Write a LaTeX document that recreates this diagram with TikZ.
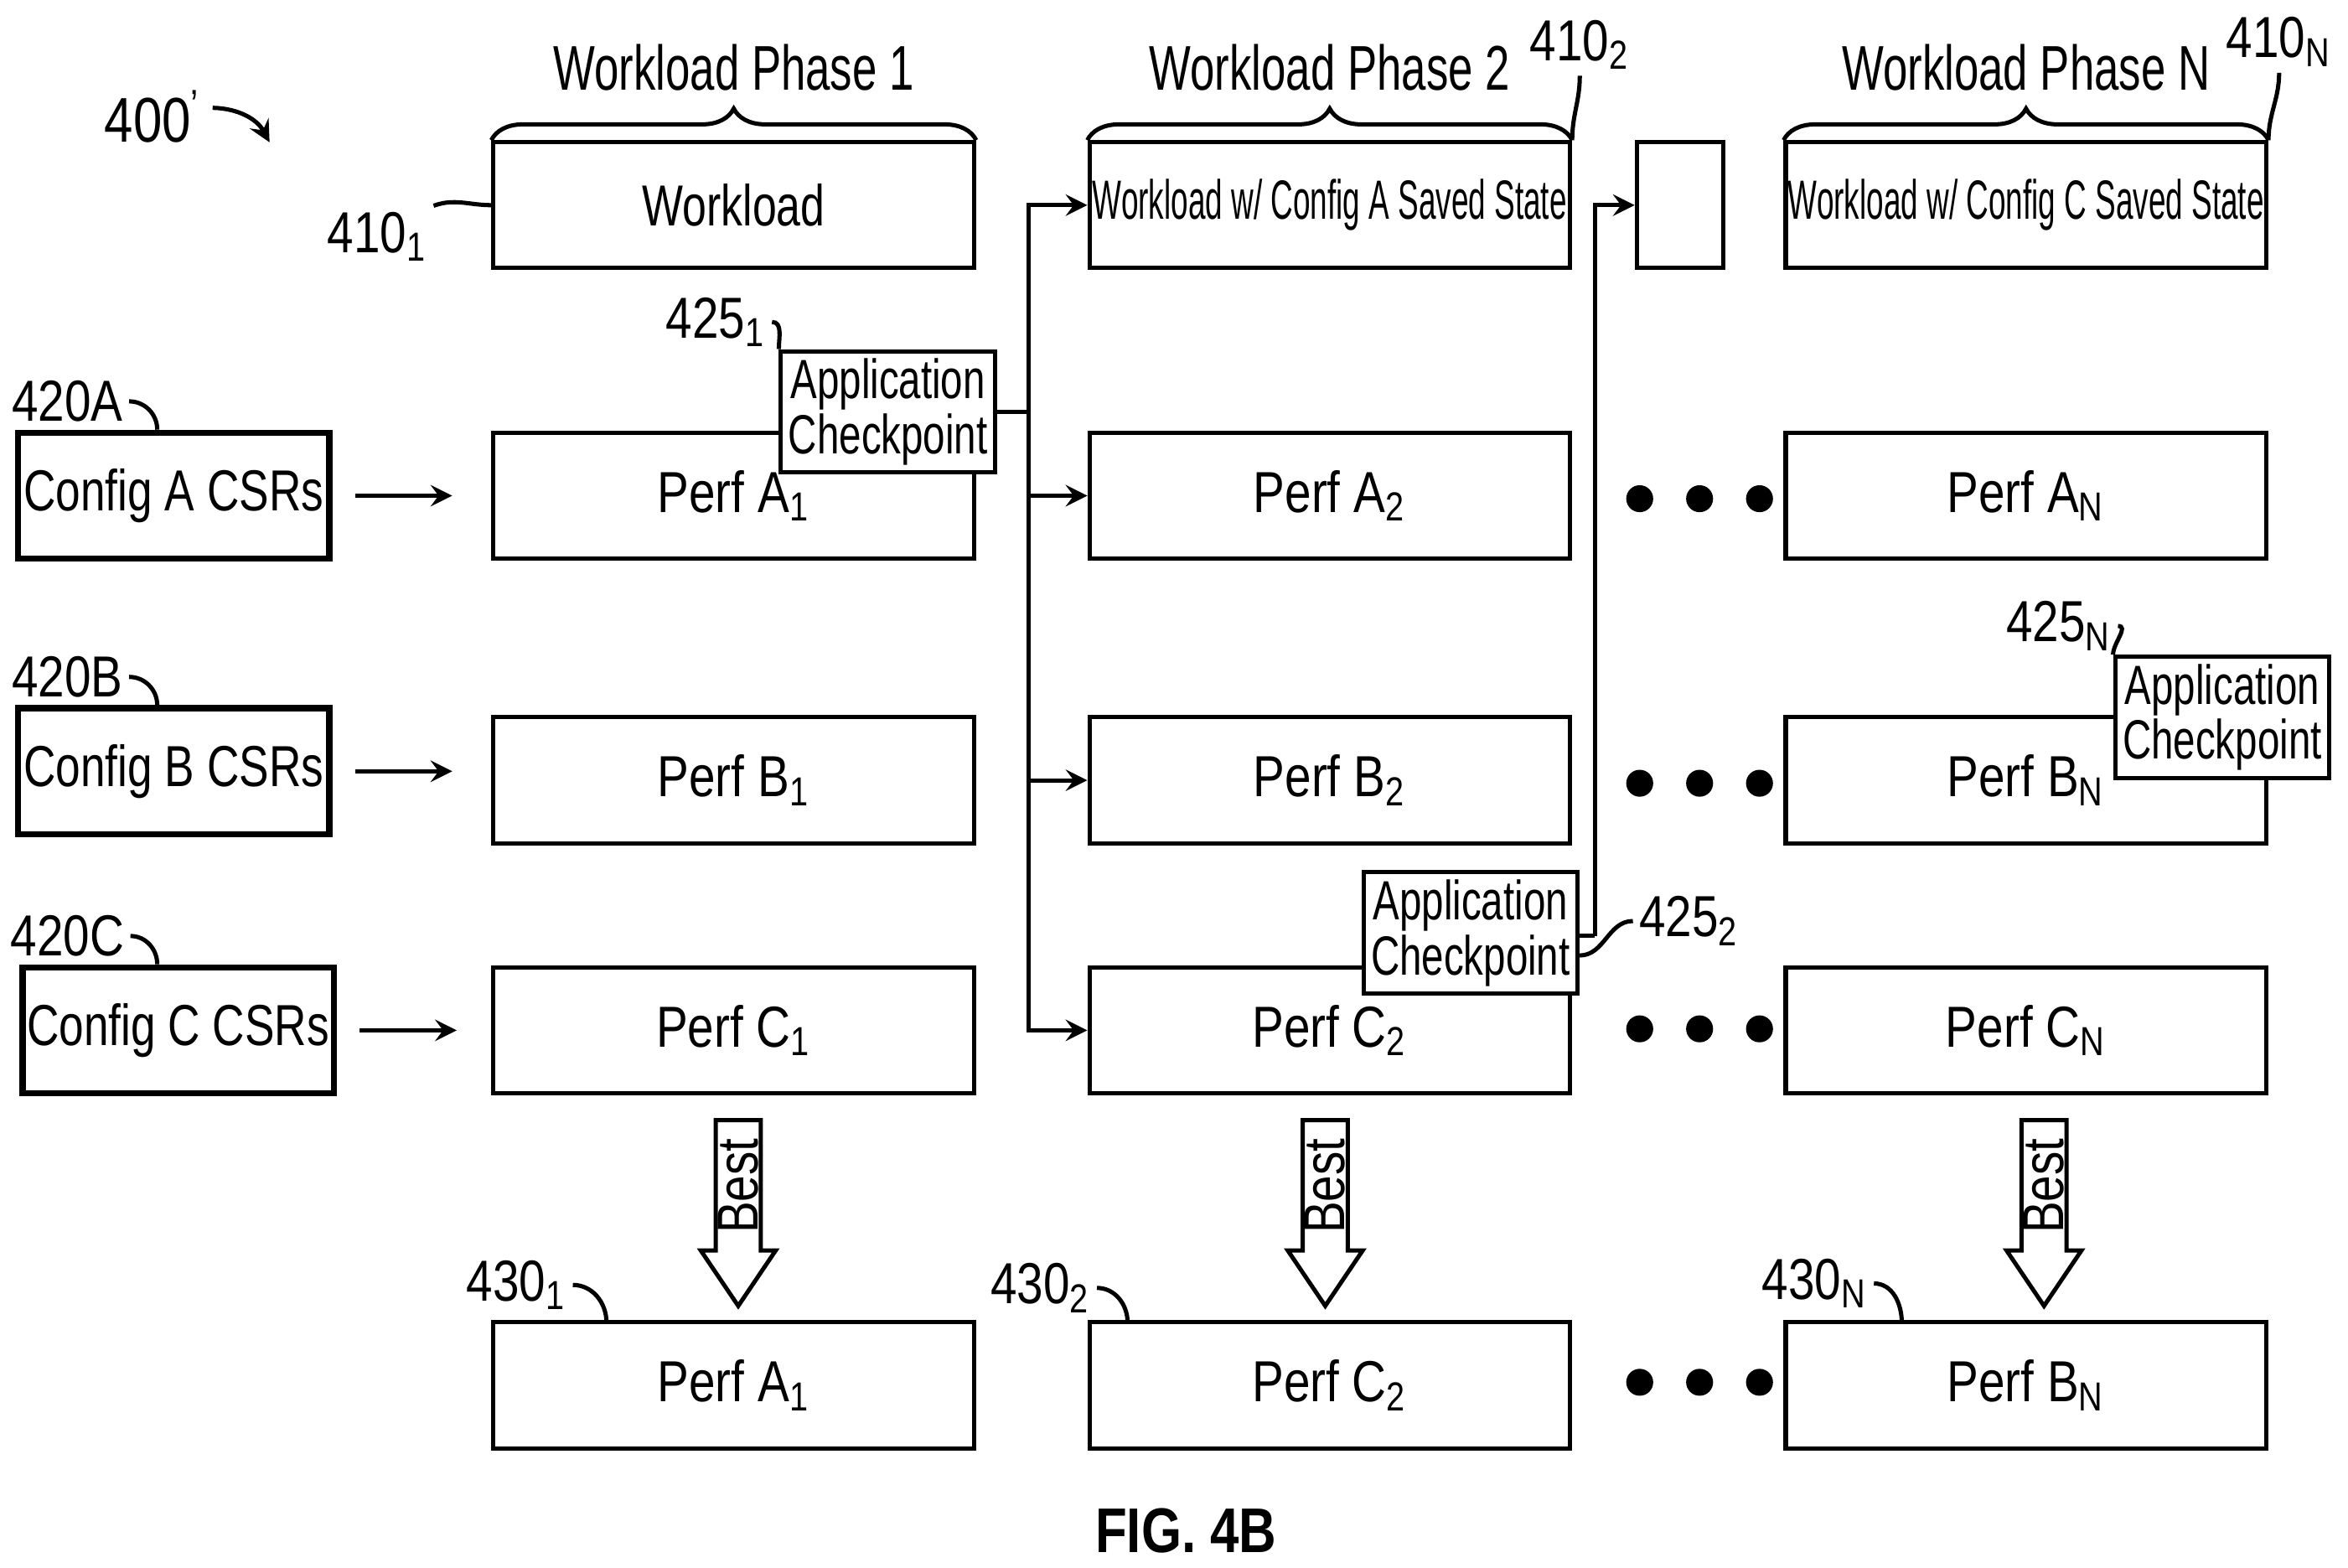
\documentclass[tikz,border=0pt]{standalone}
\usepackage{fontspec}
\setmainfont{Liberation Sans}
\usepackage{graphicx}
\usetikzlibrary{arrows,positioning,decorations.pathreplacing}
\newcommand{\nar}[2][0.82]{\scalebox{#1}[1]{#2}}
\newcommand{\sub}[1]{\textsubscript{#1}}
\tikzstyle{arrow} = [thick,->,>=stealth]
\tikzstyle{box} = [rectangle, draw, thick, minimum width=32.1mm, minimum height=8.4mm, font=\fontsize{11}{12}\selectfont, inner sep=0pt]
\tikzstyle{cfg} = [rectangle, draw, very thick, minimum width=20.8mm, minimum height=8.4mm, font=\fontsize{11}{12}\selectfont, inner sep=0pt]
\tikzstyle{chk} = [rectangle, draw, thick, fill=white, minimum width=14.3mm, minimum height=8.1mm, font=\fontsize{10.5}{10.5}\selectfont, align=center, inner sep=1pt]
\tikzstyle{lbl} = [font=\fontsize{11}{12}\selectfont, inner sep=1pt]
\tikzstyle{hook} = [thick]
\tikzstyle{dot} = [circle, fill, inner sep=0pt, minimum size=1.8mm]
\begin{document}
\begin{tikzpicture}[x=0.1mm, y=-0.1mm]
\useasboundingbox (0,0) rectangle (1568,1047);
% Workload phases
\node (w1) [box] at (490,137) {\nar[0.75]{Workload}};
\node (w2) [box] at (888,137) {\fontsize{10.5}{10.5}\selectfont\nar[0.56]{Workload w/ Config A Saved State}};
\node (wx) [box, minimum width=5.8mm] at (1122,137) {};
\node (wn) [box] at (1353,137) {\fontsize{10.5}{10.5}\selectfont\nar[0.56]{Workload w/ Config C Saved State}};
\foreach \w/\t in {w1/1, w2/2, wn/N}{
  \draw[thick, decorate, decoration={brace, amplitude=6pt}] (\w.north west) -- (\w.north east) node[midway, above=8pt, lbl, font=\fontsize{12}{12}\selectfont] {\nar[0.7]{Workload Phase \t}};
}
% Perf rows
\foreach \c/\x in {1/490, 2/888, N/1353}{
  \node (pa\c) [box] at (\x,331) {\nar{Perf A\sub{\c}}};
  \node (pb\c) [box] at (\x,521) {\nar{Perf B\sub{\c}}};
  \node (pc\c) [box] at (\x,688) {\nar{Perf C\sub{\c}}};
}
\node (r1) [box] at (490,925) {\nar{Perf A\sub{1}}};
\node (r2) [box] at (888,925) {\nar{Perf C\sub{2}}};
\node (rn) [box] at (1353,925) {\nar{Perf B\sub{N}}};
% Config CSRs
\node (ca) [cfg] at (116,331) {\nar[0.77]{Config A CSRs}};
\node (cb) [cfg] at (116,515) {\nar[0.77]{Config B CSRs}};
\node (cc) [cfg] at (119,688) {\nar[0.77]{Config C CSRs}};
\draw[arrow] (ca.east) ++(15,0) -- (302,331);
\draw[arrow] (cb.east) ++(15,0) -- (302,515);
\draw[arrow] (cc.east) ++(15,0) -- (305,688);
% Checkpoints
\node (k1) [chk] at (593,275) {\nar[0.72]{Application}\\\nar[0.72]{Checkpoint}};
\node (k2) [chk] at (982,623) {\nar[0.72]{Application}\\\nar[0.72]{Checkpoint}};
\node (kn) [chk] at (1484,479) {\nar[0.72]{Application}\\\nar[0.72]{Checkpoint}};
\coordinate (j1) at (687,275);
\draw[thick] (k1.east) -- (j1);
\draw[arrow] (j1) |- (w2.west);
\draw[arrow] (j1) |- (pa2.west);
\draw[arrow] (j1) |- (pb2.west);
\draw[arrow] (j1) |- (pc2.west);
\coordinate (j2) at (1065,625);
\draw[thick] (k2.east |- j2) -- (j2);
\draw[arrow] (j2) |- (wx.west);
% Dots
\foreach \y in {333, 523, 687, 923}{
  \node (d1\y) [dot] at (1095,\y) {};
  \node (d2\y) [dot] at (1135,\y) {};
  \node (d3\y) [dot] at (1175,\y) {};
}
% Best arrows
\foreach \x in {493, 885, 1365}{
  \draw[thick, fill=white] (\x-15,748) -- (\x+15,748) -- (\x+15,835) -- (\x+25,835) -- (\x,872) -- (\x-25,835) -- (\x-15,835) -- cycle;
  \node[rotate=90, lbl] at (\x,792) {\nar{Best}};
}
% Reference labels
\node (l400) [lbl, font=\fontsize{12}{12}\selectfont] at (102,78) {\nar{400\textsuperscript{'}}};
\draw[arrow] (142,72) to[bend left=30] (180,95);
\node (l4101) [lbl] at (252,158) {\nar{410\sub{1}}};
\draw[hook] (l4101.north east) to[out=20, in=180] (w1.west);
\node (l4102) [lbl] at (1055,30) {\nar{410\sub{2}}};
\draw[hook] (l4102.south) to[out=-90, in=90] (w2.north east);
\node (l410n) [lbl] at (1522,28) {\nar{410\sub{N}}};
\draw[hook] (l410n.south) to[out=-90, in=90] (wn.north east);
\node (l4251) [lbl] at (478,215) {\nar{425\sub{1}}};
\draw[hook] (l4251.east) to[out=0, in=90] (k1.north west);
\node (l4252) [lbl] at (1128,615) {\nar{425\sub{2}}};
\draw[hook] (l4252.west) to[out=180, in=0] (k2.east |- 0,638);
\node (l425n) [lbl] at (1375,418) {\nar{425\sub{N}}};
\draw[hook] (l425n.east) to[out=0, in=90] (kn.north west);
\node (l420a) [lbl] at (45,268) {\nar{420A}};
\draw[hook] (l420a.east) to[out=0, in=90] (ca.north -| 105,0);
\node (l420b) [lbl] at (45,452) {\nar{420B}};
\draw[hook] (l420b.east) to[out=0, in=90] (cb.north -| 105,0);
\node (l420c) [lbl] at (45,625) {\nar{420C}};
\draw[hook] (l420c.east) to[out=0, in=90] (cc.north -| 105,0);
\node (l4301) [lbl] at (345,858) {\nar{430\sub{1}}};
\draw[hook] (l4301.east) to[out=0, in=90] (405,883);
\node (l4302) [lbl] at (695,860) {\nar{430\sub{2}}};
\draw[hook] (l4302.east) to[out=0, in=90] (753,883);
\node (l430n) [lbl] at (1212,857) {\nar{430\sub{N}}};
\draw[hook] (l430n.east) to[out=0, in=90] (1270,883);
% Figure label
\node (fig) [font=\bfseries\fontsize{12}{12}\selectfont] at (792,1022) {\nar{FIG. 4B}};
\end{tikzpicture}
\end{document}
